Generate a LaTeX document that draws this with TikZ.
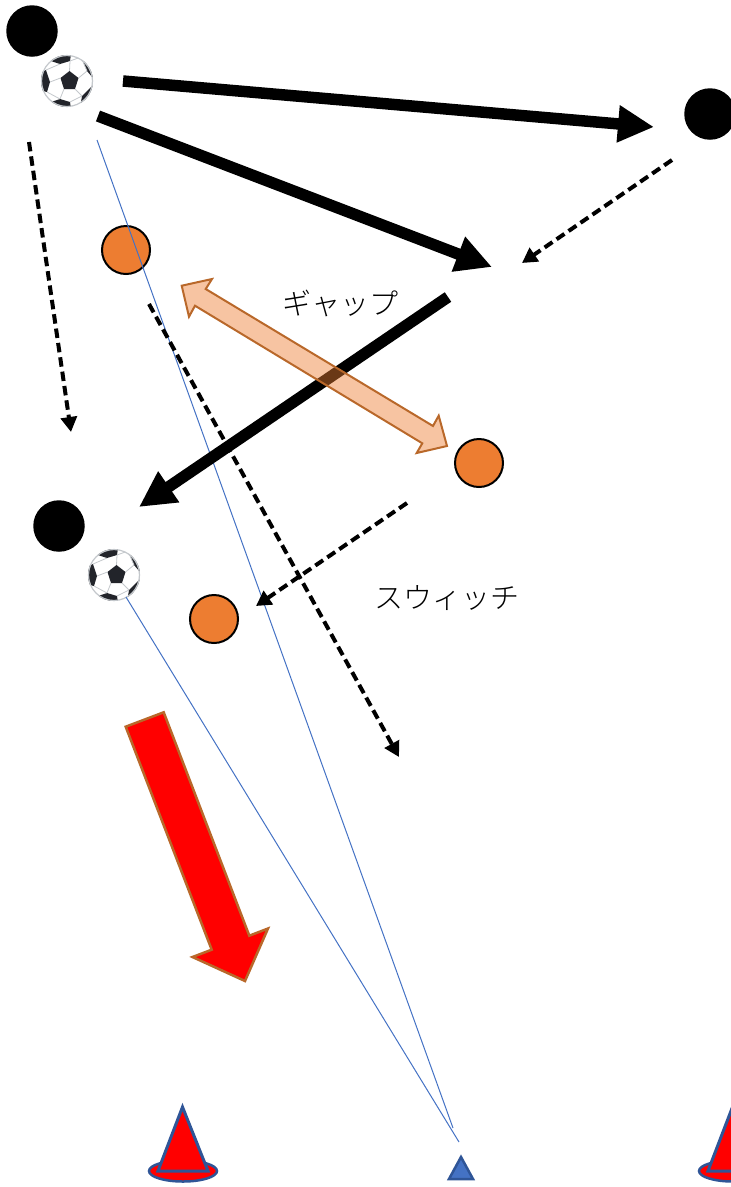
\documentclass[tikz,border=0pt]{standalone}
\usepackage{fontspec}
\usetikzlibrary{arrows.meta,positioning,calc}
\newfontfamily\jpfont{Noto Sans CJK JP Light}
\definecolor{GapOrange}{HTML}{ED7D31}
\definecolor{GapBrown}{HTML}{B9682A}
\definecolor{ViewBlue}{HTML}{4472C4}
\definecolor{ConeBlue}{HTML}{2F5597}
\definecolor{BallGrey}{HTML}{C4C8CC}
\definecolor{BallDark}{HTML}{22242A}
\tikzset{
  attacker/.style={circle,fill=black,inner sep=0pt,outer sep=0pt,minimum size=51.5pt},
  defender/.style={circle,fill=GapOrange,draw=black,line width=2pt,inner sep=0pt,outer sep=0pt,minimum size=48pt},
  pass/.style={line width=11.5pt,-{Triangle[length=36pt,width=35pt]}},
  run/.style={line width=4pt,dash pattern=on 9.5pt off 5pt,-{Triangle[length=15pt,width=16pt]}},
  view/.style={ViewBlue,line width=1pt},
  caption/.style={font=\jpfont\fontsize{29}{31}\selectfont,inner sep=0pt},
  soccerball/.pic={
    \fill[white] (0,0) circle (26);
    \begin{scope}
      \clip (0,0) circle (26);
      \fill[BallDark] (2.5,-10) -- (11.5,-3) -- (8,8) -- (-3,8) -- (-6.5,-3) -- cycle;
      \fill[BallDark] (-17,-25) -- (4,-27) -- (3,-20) -- (-7,-17) -- (-16,-20) -- cycle;
      \fill[BallDark] (14,-24) -- (29,-8) -- (26,-3) -- (20,-10) -- cycle;
      \fill[BallDark] (26,4) -- (29,16) -- (13,27) -- (15,15) -- cycle;
      \fill[BallDark] (-17,25) -- (4,27) -- (3,21) -- (-7,18) -- (-16,21) -- cycle;
      \fill[BallDark] (-28,-8) -- (-21,-11) -- (-17,1) -- (-20,11) -- (-28,9) -- cycle;
      \draw[BallGrey,line width=.8pt] (2.5,-10) -- (3,-20) (11.5,-3) -- (20,-10)
        (8,8) -- (15,15) (-3,8) -- (-7,18) (-6.5,-3) -- (-17,1)
        (-7,-17) -- (-21,-11) (-20,11) -- (-7,18) (3,21) -- (15,15)
        (26,-3) -- (26,4) (20,-10) -- (14,-24) (3,-20) -- (14,-24);
    \end{scope}
    \draw[BallGrey,line width=1.2pt] (0,0) circle (25.5);
  },
  markercone/.pic={
    \draw[fill=red,draw=ConeBlue,line width=2.5pt] (0,0) ellipse (34 and 10.5);
    \draw[fill=red,draw=ConeBlue,line width=3pt,line join=miter] (-25,0) -- (-.5,-64) -- (25,0) -- cycle;
  }
}
\begin{document}
\begin{tikzpicture}[x=1pt,y=-1pt]
  \useasboundingbox (0,0) rectangle (731,1187);
  % players
  \node[attacker] (attackerTop) at (32,31) {};
  \node[attacker] (attackerRight) at (710,114) {};
  \node[attacker] (attackerLow) at (59,526) {};
  \node[defender] (defenderTop) at (126,250) {};
  \node[defender] (defenderRight) at (479,463) {};
  \node[defender] (defenderLow) at (214,619) {};
  \pic at (67,81) {soccerball};
  \pic at (114,575) {soccerball};
  % free ends
  \coordinate (viewA) at (97,140);
  \coordinate (viewB) at (126,597);
  \coordinate (viewEndA) at (453,1128);
  \coordinate (viewEndB) at (459,1142);
  \coordinate (passOneA) at (123,81);
  \coordinate (passOneB) at (654,127);
  \coordinate (passTwoA) at (98,116);
  \coordinate (passTwoB) at (492,267);
  \coordinate (passThreeA) at (448,297);
  \coordinate (passThreeB) at (139,507);
  \coordinate (runOneA) at (29,142);
  \coordinate (runOneB) at (71,432);
  \coordinate (runTwoA) at (672,160);
  \coordinate (runTwoB) at (522,263);
  \coordinate (runThreeA) at (149,304);
  \coordinate (runThreeB) at (399,757);
  \coordinate (runFourA) at (407,503);
  \coordinate (runFourB) at (256,606);
  % sight lines
  \draw[view] (viewA) -- (viewEndA);
  \draw[view] (viewB) -- (viewEndB);
  % off the ball runs
  \draw[run] (runOneA) -- (runOneB);
  \draw[run] (runTwoA) -- (runTwoB);
  \draw[run] (runThreeA) -- (runThreeB);
  \draw[run] (runFourA) -- (runFourB);
  % passes
  \draw[pass] (passOneA) -- (passOneB);
  \draw[pass] (passTwoA) -- (passTwoB);
  \draw[pass] (passThreeA) -- (passThreeB);
  % gap arrow
  \fill[GapOrange,opacity=.45] (181.7,285.7) -- (212,279) -- (205.7,289) -- (433,426) -- (438.7,415.7)
    -- (447,446) -- (416.7,453) -- (422.3,443.3) -- (195,305.7) -- (189,316.7) -- cycle;
  \draw[GapBrown,line width=2pt,line join=miter] (181.7,285.7) -- (212,279) -- (205.7,289) -- (433,426) -- (438.7,415.7)
    -- (447,446) -- (416.7,453) -- (422.3,443.3) -- (195,305.7) -- (189,316.7) -- cycle;
  % direction of play
  \draw[fill=red,draw=GapBrown,line width=2.5pt,line join=miter] (125.7,726.7) -- (163.7,712.3) -- (249.3,935.7)
    -- (268,928.5) -- (245,981) -- (192.5,957) -- (211.7,949.7) -- cycle;
  % cones
  \pic at (183,1171) {markercone};
  \pic at (733,1171) {markercone};
  \draw[fill=ViewBlue,draw=ConeBlue,line width=2.5pt,line join=miter] (461,1157) -- (473,1179) -- (449,1179) -- cycle;
  % labels
  \node[caption] (labelGap) at (340.5,303) {ギャップ};
  \node[caption] (labelSwitch) at (446.5,598) {スウィッチ};
\end{tikzpicture}
\end{document}
